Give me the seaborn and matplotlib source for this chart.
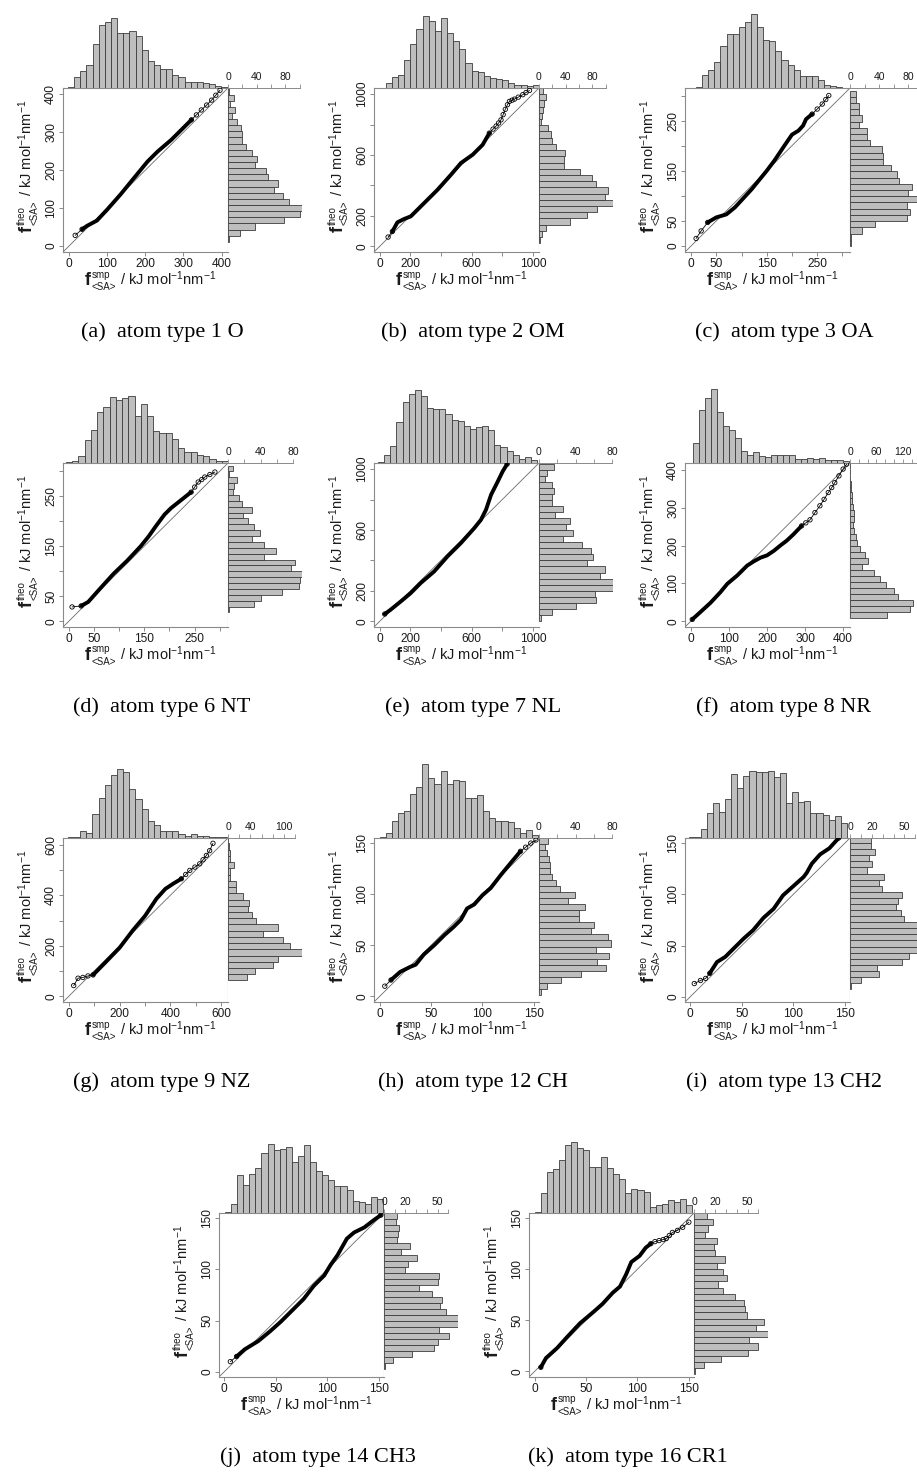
import numpy as np
import pandas as pd
import matplotlib
matplotlib.use("Agg")
import matplotlib.pyplot as plt
from matplotlib.transforms import IdentityTransform
import seaborn as sns

# ---------------------------------------------------------------- data
captions = [
    "(a)  atom type 1 O", "(b)  atom type 2 OM", "(c)  atom type 3 OA",
    "(d)  atom type 6 NT", "(e)  atom type 7 NL", "(f)  atom type 8 NR",
    "(g)  atom type 9 NZ", "(h)  atom type 12 CH", "(i)  atom type 13 CH2",
    "(j)  atom type 14 CH3", "(k)  atom type 16 CR1",
]

# common range of both quantile axes
axis_lo = [-16, -37, -12, -11, -37, -15, -22, -5.5, -5, -5, -5.5]
axis_hi = [417, 1040, 315, 316, 1040, 418, 626, 155, 155, 155, 155]
axis_tick_step = [100, 200, 50, 50, 200, 100, 100, 50, 50, 50, 50]
axis_tick_max = [400, 1000, 300, 300, 1000, 400, 600, 150, 150, 150, 150]
axis_tick_labels = [
    [0, 100, 200, 300, 400], [0, 200, 600, 1000], [0, 50, 150, 250],
    [0, 50, 150, 250], [0, 200, 600, 1000], [0, 100, 200, 300, 400],
    [0, 200, 400, 600], [0, 50, 100, 150], [0, 50, 100, 150],
    [0, 50, 100, 150], [0, 50, 100, 150],
]

# histogram of the sampled forces (top margin)
smp_bin_lo = [-3, 40, 10, -5, -10, 6, -3, 0, -1.6, 0.8, 0]
smp_bin_hi = [416, 1040, 300, 316, 1028, 416, 624, 154, 152, 154, 153]
smp_counts = [
    [1, 16, 23, 32, 61, 87, 92, 98, 77, 76, 80, 73, 53, 37, 32, 26, 26, 18, 15, 9, 8, 9, 7, 6, 3, 1],
    [7, 16, 19, 42, 66, 88, 108, 101, 85, 105, 82, 70, 58, 38, 26, 24, 18, 15, 13, 12, 7, 5, 4, 3, 4],
    [2, 18, 25, 36, 58, 75, 75, 84, 91, 102, 84, 66, 65, 51, 39, 32, 25, 16, 16, 16, 11, 4, 3, 2],
    [1, 2, 9, 28, 40, 63, 69, 81, 78, 80, 83, 58, 73, 58, 39, 37, 37, 30, 18, 13, 13, 10, 8, 5, 3, 3],
    [1, 9, 19, 45, 67, 75, 80, 73, 60, 59, 59, 54, 47, 46, 41, 37, 39, 40, 36, 20, 17, 13, 9, 4, 7, 3],
    [46, 120, 147, 168, 115, 85, 74, 56, 27, 19, 26, 16, 13, 19, 19, 19, 19, 10, 9, 11, 10, 11, 7, 7, 6, 4],
    [1, 1, 13, 9, 43, 71, 95, 113, 123, 117, 88, 70, 51, 30, 24, 13, 12, 12, 8, 4, 7, 4, 3, 2, 1, 1],
    [1, 6, 19, 27, 30, 48, 56, 81, 66, 59, 73, 59, 64, 62, 44, 44, 47, 30, 22, 19, 19, 17, 11, 6, 9, 3],
    [1, 1, 8, 23, 32, 24, 36, 59, 46, 57, 62, 61, 61, 62, 56, 60, 32, 42, 33, 34, 23, 23, 21, 17, 20, 14],
    [1, 8, 35, 26, 36, 42, 56, 64, 59, 60, 62, 48, 53, 63, 48, 39, 35, 31, 25, 25, 21, 11, 10, 8, 15, 13],
    [1, 19, 38, 41, 49, 63, 66, 61, 59, 43, 43, 52, 42, 36, 32, 19, 22, 21, 20, 6, 7, 8, 12, 10, 13, 7],
]

# histogram of the theoretical forces (right margin)
theo_bin_lo = [11, 20, 0, 18, 3, 9, 63, 1.6, 7.5, 3, -3]
theo_bin_hi = [416, 1040, 310, 311, 1036, 419, 629, 155, 156, 155, 155]
theo_counts = [
    [1, 17, 37, 78, 100, 103, 85, 76, 64, 69, 56, 53, 37, 40, 33, 25, 20, 20, 18, 13, 6, 10, 3, 8, 2],
    [2, 4, 10, 46, 72, 87, 111, 99, 103, 86, 80, 61, 38, 38, 39, 25, 20, 18, 14, 3, 4, 6, 8, 11, 6],
    [1, 2, 16, 35, 79, 83, 79, 96, 80, 86, 68, 65, 56, 46, 46, 44, 28, 23, 23, 12, 16, 12, 12, 8, 8],
    [1, 32, 41, 66, 87, 88, 91, 77, 83, 44, 59, 44, 29, 39, 32, 24, 18, 29, 17, 13, 6, 7, 11, 1, 6],
    [2, 14, 40, 62, 61, 81, 81, 67, 72, 53, 59, 57, 47, 26, 37, 30, 34, 17, 26, 14, 14, 16, 14, 7, 9, 16],
    [83, 137, 142, 110, 100, 82, 69, 54, 28, 41, 33, 22, 17, 13, 9, 7, 10, 8, 7, 5, 4, 2, 2, 1, 1, 1],
    [33, 49, 80, 89, 132, 110, 98, 63, 89, 50, 43, 35, 37, 27, 15, 15, 4, 4, 10, 4, 3, 1, 0],
    [2, 9, 24, 46, 73, 64, 77, 62, 79, 76, 57, 60, 44, 44, 50, 32, 39, 23, 19, 14, 12, 12, 11, 9, 7, 10],
    [1, 10, 27, 25, 48, 54, 64, 68, 65, 63, 66, 50, 47, 42, 44, 48, 29, 27, 31, 16, 20, 17, 23, 19, 19],
    [1, 8, 26, 47, 50, 61, 51, 69, 69, 58, 52, 54, 45, 33, 50, 51, 20, 22, 31, 16, 24, 12, 13, 14, 11, 12],
    [1, 9, 25, 50, 60, 51, 69, 58, 65, 49, 48, 47, 38, 27, 22, 31, 27, 21, 29, 20, 19, 21, 10, 13, 18, 12],
]
count_tick_step = [20, 20, 20, 20, 20, 20, 20, 20, 10, 10, 10]
count_tick_labels = [
    [0, 40, 80], [0, 40, 80], [0, 40, 80], [0, 40, 80], [0, 40, 80],
    [0, 60, 120], [0, 40, 100], [0, 40, 80], [0, 20, 50], [0, 20, 50], [0, 20, 50],
]

# quantile-quantile traces: sampled (x) versus theoretical (y)
qq_smp = [
    [16, 34, 47, 73, 100, 135, 170, 206, 232, 268, 294, 321, 334, 347, 361, 374, 385, 396],
    [55, 83, 116, 160, 203, 290, 378, 465, 530, 607, 672, 716, 740, 760, 776, 792, 806, 820, 834, 847, 864, 880, 905, 934, 955, 978],
    [10, 20, 33, 50, 70, 87, 120, 150, 165, 185, 200, 213, 222, 228, 240, 250, 260, 267, 273],
    [7, 25, 39, 62, 89, 116, 143, 159, 173, 190, 203, 223, 243, 250, 257, 264, 270, 280, 290],
    [33, 72, 138, 203, 268, 356, 443, 530, 618, 661, 694, 727, 771, 803, 832],
    [4, 26, 52, 78, 96, 122, 148, 165, 183, 200, 218, 235, 252, 270, 291, 302, 313, 326, 339, 350, 361, 370, 378, 389, 400, 409],
    [20, 37, 56, 76, 96, 109, 148, 200, 253, 300, 345, 380, 410, 443, 460, 476, 496, 515, 528, 541, 554, 567],
    [5, 11, 20, 30, 35, 43, 53, 63, 72, 79, 85, 92, 100, 108, 118, 127, 137, 142, 147, 152],
    [4, 10, 15, 19, 26, 34, 42, 52, 61, 71, 81, 90, 100, 110, 113, 118, 126, 135, 144],
    [6, 12, 20, 33, 45, 55, 65, 77, 87, 97, 103, 110, 119, 126, 136, 145, 152],
    [6, 11, 22, 31, 44, 57, 66, 76, 83, 89, 94, 102, 108, 113, 117, 121, 125, 128, 131, 134, 139, 144, 150],
]
qq_theo = [
    [28, 44, 53, 67, 96, 136, 179, 223, 249, 280, 306, 333, 346, 359, 372, 385, 398, 411],
    [61, 98, 158, 180, 197, 284, 372, 470, 547, 602, 667, 744, 770, 790, 810, 831, 865, 900, 930, 952, 960, 967, 980, 996, 1010, 1024],
    [15, 30, 47, 57, 63, 77, 113, 150, 170, 200, 222, 230, 240, 253, 263, 273, 283, 292, 300],
    [29, 31, 39, 65, 95, 121, 150, 170, 190, 213, 226, 242, 258, 268, 278, 283, 288, 293, 298],
    [48, 77, 131, 186, 252, 328, 427, 514, 613, 667, 733, 831, 919, 985, 1033],
    [5, 25, 49, 77, 99, 121, 147, 158, 168, 174, 186, 200, 213, 230, 252, 260, 268, 287, 305, 322, 340, 353, 366, 384, 402, 415],
    [43, 72, 75, 81, 85, 98, 138, 192, 262, 318, 386, 425, 445, 465, 482, 498, 511, 524, 540, 557, 576, 605],
    [10, 16, 24, 29, 31, 41, 50, 60, 68, 75, 86, 90, 99, 106, 119, 130, 142, 146, 150, 153],
    [13, 16, 18, 23, 34, 39, 47, 57, 65, 77, 86, 99, 108, 117, 121, 130, 139, 145, 155],
    [10, 15, 22, 30, 40, 49, 59, 71, 84, 94, 104, 114, 130, 136, 141, 148, 153],
    [4, 13, 23, 33, 47, 58, 66, 77, 83, 95, 107, 113, 121, 125, 127, 128, 129, 130, 133, 136, 138, 141, 146],
]
# index range of the densely populated stretch of each trace
qq_dense = [(1, 11), (1, 11), (2, 14), (1, 12), (0, 14), (0, 14),
            (4, 13), (1, 16), (3, 18), (1, 16), (0, 13)]

# ---------------------------------------------------------------- style
sns.set_style("ticks")
plt.rcParams["font.family"] = ["Liberation Sans", "DejaVu Sans"]
plt.rcParams["mathtext.fontset"] = "custom"
plt.rcParams["mathtext.rm"] = "Liberation Sans"
plt.rcParams["mathtext.it"] = "Liberation Sans:italic"
plt.rcParams["mathtext.bf"] = "Liberation Sans:bold"

W, H = 917, 1482
fig = plt.figure(figsize=(W / 100, H / 100), dpi=100)
renderer = fig.canvas.get_renderer()

MAIN_W, MAIN_H, MARG = 165, 164, 74
FRAME = "#8a8a8a"
BAR_FILL, BAR_EDGE = "#bebebe", "#3c3c3c"
TXT = "#1a1a1a"

origins = [(63 + 311 * (i % 3), 88 + 375 * (i // 3)) for i in range(9)]
origins += [(219, 1213), (529, 1213)]


def rect(left, top, w, h):
    return [left / W, 1 - (top + h) / H, w / W, h / H]


def put(x, y, s, size, weight="normal", rot=0):
    return fig.text(x, y, s, transform=IdentityTransform(), fontsize=size,
                    fontweight=weight, rotation=rot, rotation_mode="anchor",
                    ha="left", va="baseline", color=TXT)


def axis_label(cx, cy, script, vertical):
    """Bold f with stacked super/subscript, followed by the unit."""
    rot = 90 if vertical else 0
    parts = [put(0, 0, "f", 13, "bold", rot), put(0, 0, script, 7, rot=rot),
             put(0, 0, "<SA>", 7, rot=rot),
             put(0, 0, " / kJ mol$^{-1}$nm$^{-1}$", 10.5, rot=rot)]
    ext = []
    for p in parts:
        bb = p.get_window_extent(renderer)
        ext.append(bb.height if vertical else bb.width)
    wf, wsup, wsub, wrest = ext
    wscript = max(wsup, wsub)
    total = wf + 1 + wscript + wrest
    start = (cy if vertical else cx) - total / 2
    along = [start, start + wf + 1, start + wf + 1, start + wf + 1 + wscript]
    across = [0, 7.5, -5, 0]
    for p, a, c in zip(parts, along, across):
        if vertical:
            p.set_position((cx - c, a))
        else:
            p.set_position((a, cy + c))


def fmt(v):
    return f"{v:g}"


def margin_hist(ax, lo_edge, hi_edge, counts, orient):
    edges = np.linspace(lo_edge, hi_edge, len(counts) + 1)
    frame = pd.DataFrame({"value": (edges[:-1] + edges[1:]) / 2,
                          "count": np.asarray(counts, dtype=float)})
    key = "x" if orient == "top" else "y"
    sns.histplot(data=frame, **{key: "value"}, weights="count",
                 bins=list(edges), ax=ax, color=BAR_FILL,
                 edgecolor=BAR_EDGE, linewidth=0.6, alpha=1)


for i, (x0, y0) in enumerate(origins):
    lo, hi = axis_lo[i], axis_hi[i]
    cmax = max(max(smp_counts[i]), max(theo_counts[i]))

    # --- main quantile-quantile panel
    ax = fig.add_axes(rect(x0, y0, MAIN_W, MAIN_H))
    ax.axline((0, 0), (1, 1), color="#6a6a6a", lw=0.6, zorder=1)
    xs, ys = np.array(qq_smp[i]), np.array(qq_theo[i])
    d0, d1 = qq_dense[i]
    sns.lineplot(x=xs[d0:d1 + 1], y=ys[d0:d1 + 1], sort=False, estimator=None,
                 color="black", lw=2.8, ax=ax, zorder=3)
    sns.lineplot(x=xs, y=ys, sort=False, estimator=None,
                 color="black", lw=0.6, ax=ax, zorder=3)
    sparse = np.ones(len(xs), dtype=bool)
    sparse[d0 + 1:d1] = False
    sns.scatterplot(x=xs[sparse], y=ys[sparse], ax=ax, marker="o", s=10,
                    facecolors="none", edgecolors="black", linewidths=0.6,
                    zorder=4)
    ax.set_xlim(lo, hi)
    ax.set_ylim(lo, hi)
    ticks = np.arange(0, axis_tick_max[i] + 1e-9, axis_tick_step[i])
    labs = [fmt(t) if t in axis_tick_labels[i] else "" for t in ticks]
    ax.set_xticks(ticks)
    ax.set_xticklabels(labs)
    ax.set_yticks(ticks)
    ax.set_yticklabels(labs, rotation=90, va="center")
    ax.set_xlabel("")
    ax.set_ylabel("")
    ax.tick_params(direction="out", length=3, width=0.7, color=FRAME,
                   labelsize=8.6, labelcolor=TXT, pad=1.2)
    for s in ax.spines.values():
        s.set_visible(True)
        s.set_color(FRAME)
        s.set_linewidth(0.8)

    # --- top margin: sampled-force histogram
    axt = fig.add_axes(rect(x0, y0 - MARG, MAIN_W, MARG))
    margin_hist(axt, smp_bin_lo[i], smp_bin_hi[i], smp_counts[i], "top")
    axt.set_xlim(lo, hi)
    axt.set_ylim(0, cmax)
    axt.set_axis_off()

    # --- right margin: theoretical-force histogram
    axr = fig.add_axes(rect(x0 + MAIN_W, y0, MARG, MAIN_H))
    margin_hist(axr, theo_bin_lo[i], theo_bin_hi[i], theo_counts[i], "right")
    axr.set_ylim(lo, hi)
    axr.set_xlim(0, cmax)
    axr.set_xlabel("")
    axr.set_ylabel("")
    cticks = np.arange(0, cmax + 1e-9, count_tick_step[i])
    axr.xaxis.set_ticks_position("top")
    axr.set_xticks(cticks)
    axr.set_xticklabels([fmt(t) if t in count_tick_labels[i] else "" for t in cticks])
    axr.set_yticks([])
    axr.tick_params(axis="x", direction="out", length=3, width=0.6, color=FRAME,
                    labelsize=7.5, labelcolor=TXT, pad=1.5)
    for name, s in axr.spines.items():
        s.set_visible(name == "top")
    axr.spines["top"].set_color(FRAME)
    axr.spines["top"].set_linewidth(0.7)
    axr.spines["top"].set_bounds(0, cticks[-1])

    # --- axis titles and caption
    axis_label(x0 + MAIN_W / 2 + 5, H - (y0 + MAIN_H + 33), "smp", False)
    axis_label(x0 - 31, H - (y0 + MAIN_H / 2 - 4), "theo", True)
    fig.text(x0 + 99, H - (y0 + 244), captions[i], transform=IdentityTransform(),
             ha="center", va="center", fontsize=16, color="black",
             family=["Liberation Serif", "DejaVu Serif"])

fig.savefig("out.png", dpi=100)
